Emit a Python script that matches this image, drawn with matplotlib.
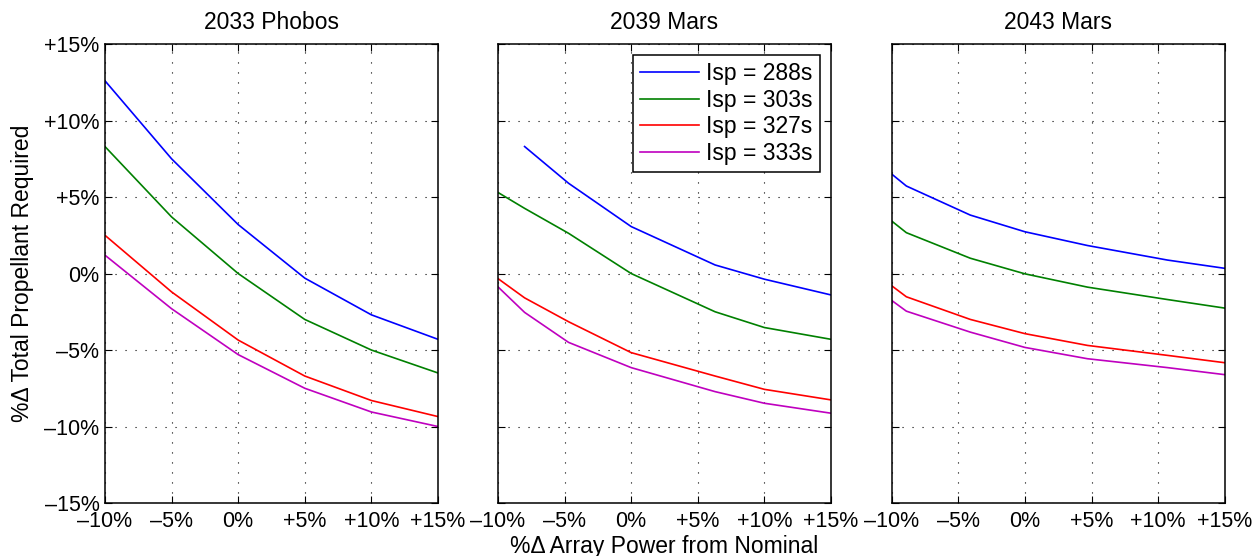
import numpy as np
import matplotlib
matplotlib.use('Agg')
import matplotlib.pyplot as plt
from matplotlib.ticker import FuncFormatter

plt.rcParams['font.family'] = ['Liberation Sans', 'DejaVu Sans']

# mission titles and Isp cases
missions = ['2033 Phobos', '2039 Mars', '2043 Mars']
isp_labels = ['Isp = 288s', 'Isp = 303s', 'Isp = 327s', 'Isp = 333s']
colors = ['#0000ff', '#008000', '#ff0000', '#bf00bf']

# %-change in array power (x) for each mission
x_phobos = [-10, -5, 0, 5, 10, 15]
x_mars39 = [-10, -8, -4.7, 0, 6.3, 10, 15]
x_mars43 = [-10, -8.9, -4.1, 0, 4.7, 10.7, 15]

# %-change in total propellant, 2033 Phobos
phobos_288 = [12.6, 7.5, 3.2, -0.3, -2.7, -4.3]
phobos_303 = [8.3, 3.7, 0.0, -3.0, -5.0, -6.5]
phobos_327 = [2.5, -1.2, -4.35, -6.7, -8.3, -9.35]
phobos_333 = [1.2, -2.3, -5.3, -7.5, -9.05, -10.0]

# 2039 Mars (288s case has no -10% point)
mars39_288 = [np.nan, 8.3, 5.9, 3.07, 0.56, -0.37, -1.4]
mars39_303 = [5.3, 4.26, 2.63, 0.0, -2.5, -3.53, -4.3]
mars39_327 = [-0.33, -1.59, -3.15, -5.17, -6.7, -7.57, -8.26]
mars39_333 = [-0.87, -2.54, -4.5, -6.15, -7.72, -8.48, -9.13]

# 2043 Mars
mars43_288 = [6.5, 5.72, 3.82, 2.73, 1.83, 0.88, 0.34]
mars43_303 = [3.43, 2.67, 1.0, -0.02, -0.89, -1.7, -2.26]
mars43_327 = [-0.8, -1.52, -3.0, -3.93, -4.7, -5.35, -5.83]
mars43_333 = [-1.76, -2.46, -3.83, -4.83, -5.57, -6.15, -6.61]

x_sets = [x_phobos, x_mars39, x_mars43]
y_sets = [[phobos_288, phobos_303, phobos_327, phobos_333],
          [mars39_288, mars39_303, mars39_327, mars39_333],
          [mars43_288, mars43_303, mars43_327, mars43_333]]

x_ticks = [-10, -5, 0, 5, 10, 15]
y_ticks = [-15, -10, -5, 0, 5, 10, 15]


def pct(v, _):
    v = int(round(v))
    if v > 0:
        return f'+{v}%'
    if v < 0:
        return f'\u2013{abs(v)}%'
    return '0%'


fig = plt.figure(figsize=(12.6, 5.56), dpi=100)
lefts = [0.0833, 0.3952, 0.7077]
axes = []
for i, left in enumerate(lefts):
    ax = fig.add_axes([left, 0.0953, 0.2643, 0.8255])
    axes.append(ax)
    for j, ys in enumerate(y_sets[i]):
        ax.plot(x_sets[i], ys, color=colors[j], linewidth=1.2, label=isp_labels[j])
    ax.set_xlim(-10, 15)
    ax.set_ylim(-15, 15)
    ax.set_xticks(x_ticks)
    ax.set_yticks(y_ticks)
    ax.xaxis.set_major_formatter(FuncFormatter(pct))
    ax.yaxis.set_major_formatter(FuncFormatter(pct))
    ax.tick_params(direction='in', length=5, width=0.8, top=True, right=True,
                   labelsize=15.5)
    ax.tick_params(axis='x', pad=6)
    ax.tick_params(axis='y', pad=4)
    if i > 0:
        ax.tick_params(labelleft=False)
    ax.grid(True, color='black', linestyle=(0, (1, 8)), linewidth=0.8)
    for s in ax.spines.values():
        s.set_linewidth(1.1)
    ax.set_title(missions[i], fontsize=16.5, pad=11)

axes[0].set_ylabel('%\u0394 Total Propellant Required', fontsize=16.5, labelpad=7)
axes[1].set_xlabel('%\u0394 Array Power from Nominal', fontsize=16.5, labelpad=2)

leg = axes[1].legend(loc='upper right', fontsize=16.5, handlelength=2.6,
                     fancybox=False, framealpha=1, edgecolor='black',
                     borderpad=0.3, labelspacing=0.15, handletextpad=0.3,
                     borderaxespad=0.5)
leg.get_frame().set_linewidth(1.1)

plt.savefig('out.png', dpi=100)
